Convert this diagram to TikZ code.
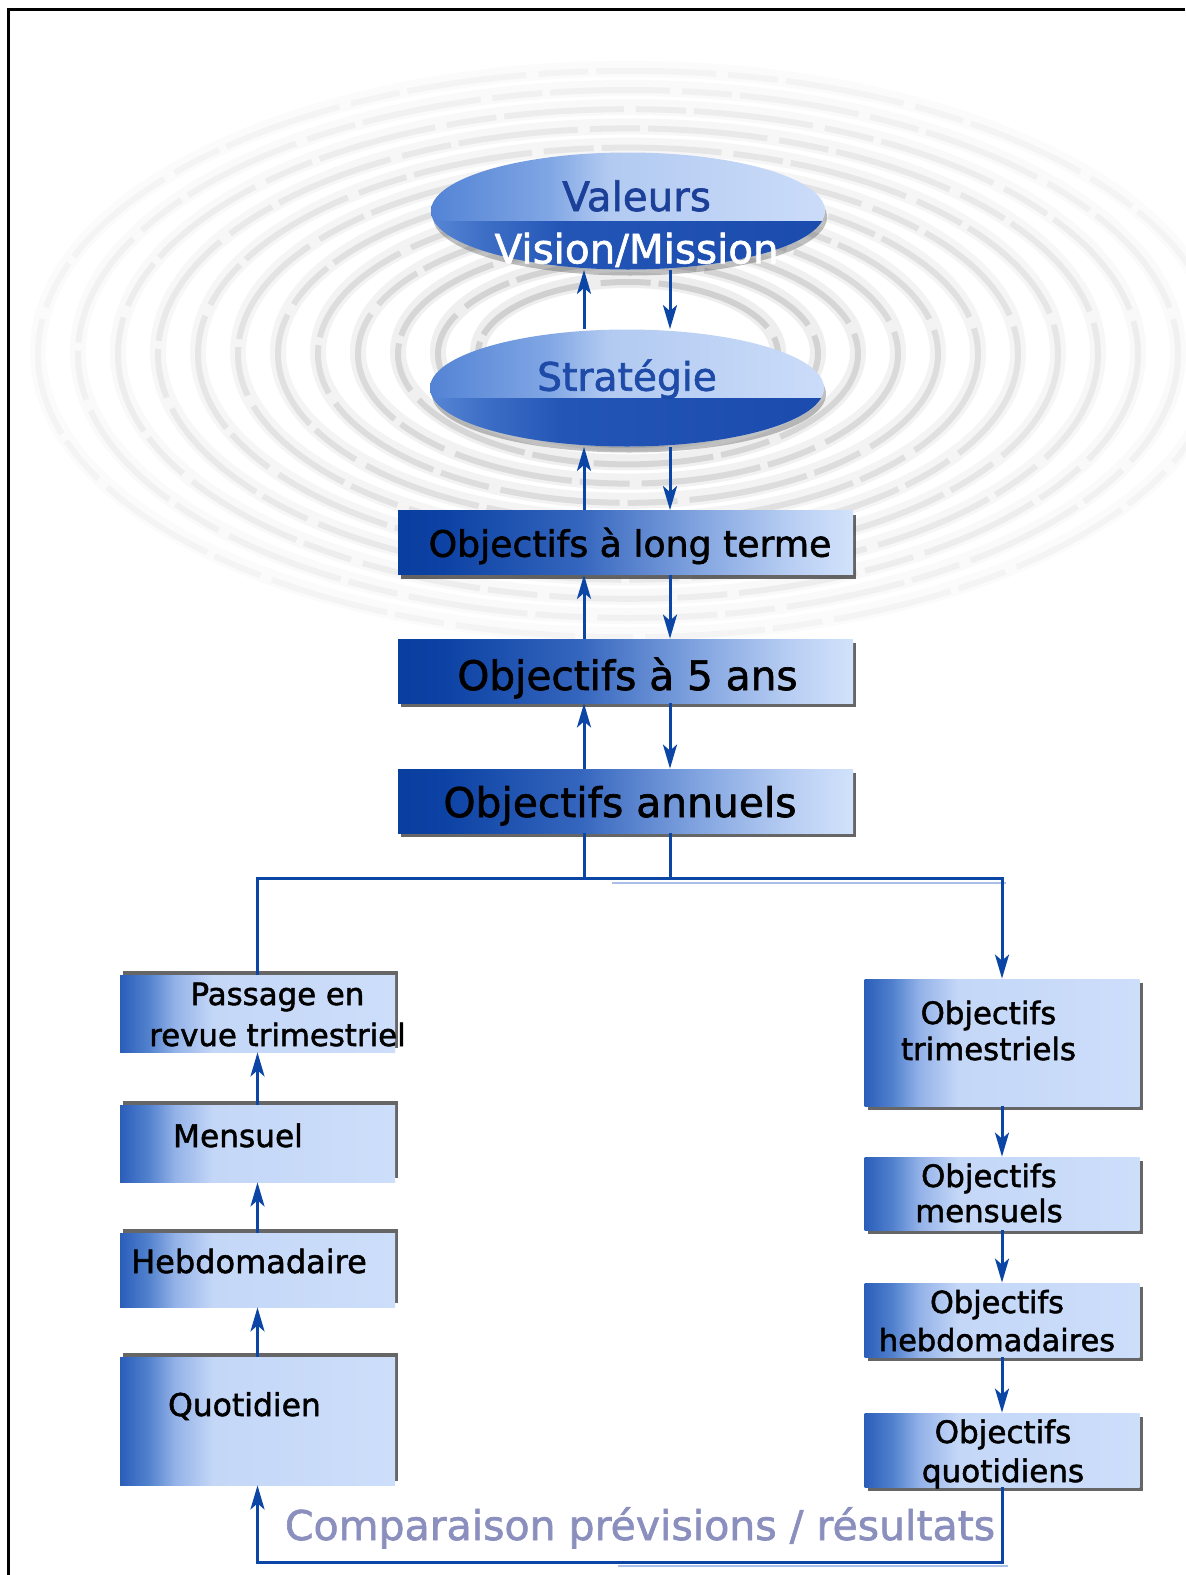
\documentclass[tikz,border=0pt]{standalone}
\usepackage{fontspec}
\setmainfont{DejaVu Sans}[FakeBold=1.6]
\usetikzlibrary{shapes.geometric,shadows,arrows.meta}
\definecolor{lineblue}{HTML}{0B46A6}
\definecolor{lightline}{HTML}{A9BFEA}
\definecolor{valblue}{HTML}{1C3F98}
\definecolor{strblue}{HTML}{1E4AA8}
\definecolor{cmpgray}{HTML}{8B8FBE}
\definecolor{tgA}{HTML}{0A3E9F}
\definecolor{tgB}{HTML}{0C42A4}
\definecolor{tgC}{HTML}{3566BE}
\definecolor{tgD}{HTML}{7FA2DF}
\definecolor{tgE}{HTML}{B5CCF2}
\definecolor{tgF}{HTML}{D2E2FB}
\definecolor{lgA}{HTML}{2B5EBA}
\definecolor{lgB}{HTML}{5080CD}
\definecolor{lgC}{HTML}{93B2E8}
\definecolor{lgD}{HTML}{C4D7F7}
\definecolor{lgE}{HTML}{CCDEFA}
\definecolor{egA}{HTML}{5383D5}
\definecolor{egB}{HTML}{80A6E4}
\definecolor{egC}{HTML}{B2CAF1}
\definecolor{egD}{HTML}{CBDCF9}
\definecolor{elA}{HTML}{5A88D6}
\definecolor{elB}{HTML}{3E6FC6}
\definecolor{elC}{HTML}{2355B6}
\definecolor{elD}{HTML}{1A4BAD}
\pgfdeclarehorizontalshading{topgrad}{100bp}{color(0bp)=(tgA); color(25bp)=(tgA); color(30bp)=(tgB); color(45bp)=(tgC); color(57.5bp)=(tgD); color(67.5bp)=(tgE); color(75bp)=(tgF); color(100bp)=(tgF)}
\pgfdeclarehorizontalshading{lowgrad}{100bp}{color(0bp)=(lgA); color(25bp)=(lgA); color(30bp)=(lgB); color(35bp)=(lgC); color(42bp)=(lgD); color(75bp)=(lgE); color(100bp)=(lgE)}
\pgfdeclarehorizontalshading{ellgrad}{100bp}{color(0bp)=(egA); color(25bp)=(egA); color(40bp)=(egB); color(47.5bp)=(egC); color(75bp)=(egD); color(100bp)=(egD)}
\pgfdeclarehorizontalshading{elllow}{100bp}{color(0bp)=(elA); color(25bp)=(elA); color(32bp)=(elB); color(42bp)=(elC); color(75bp)=(elD); color(100bp)=(elD)}
\newcommand{\bt}[3]{\makebox[0pt]{\raisebox{#2}[0pt][0pt]{\hspace*{#1}\begin{tabular}[t]{@{}c@{}}#3\end{tabular}\hspace*{-#1}}}}
\tikzset{
  topbox/.style={rectangle, minimum width=227.5pt, minimum height=32pt, inner sep=0pt,
    shade, shading=topgrad,
    drop shadow={shadow xshift=1.5pt, shadow yshift=-2pt, opacity=.8, fill=black!75}},
  lowbox/.style={rectangle, minimum width=137.5pt, inner sep=0pt, shade, shading=lowgrad},
  leftbox/.style={lowbox,
    drop shadow={shadow xshift=1.5pt, shadow yshift=2pt, opacity=.8, fill=black!75}},
  rightbox/.style={lowbox,
    drop shadow={shadow xshift=1.5pt, shadow yshift=-2pt, opacity=.8, fill=black!75}},
  ellnode/.style={ellipse, minimum width=197pt, minimum height=58.5pt, inner sep=0pt,
    shade, shading=ellgrad,
    drop shadow={shadow xshift=1pt, shadow yshift=-3pt, opacity=.35, fill=black!70},
    path picture={
      \shade[shading=elllow] ([shift={(-100pt,-5pt)}]path picture bounding box.center)
        rectangle ([shift={(100pt,-31pt)}]path picture bounding box.center);
    }},
  link/.style={draw=lineblue, line width=1.5pt},
  arr/.style={link, -{Stealth[length=12pt,width=7pt,inset=3pt]}},
  shadowline/.style={draw=lightline, line width=1.2pt},
}
\begin{document}
\begin{tikzpicture}[x=0.5pt,y=-0.5pt]
\useasboundingbox (0,0) rectangle (1185,1575);
\fill[white] (0,0) rectangle (1185,1575);
% ripples
\foreach \i in {0,...,11}{
  \pgfmathsetmacro\rx{150+40*\i}
  \pgfmathsetmacro\ry{0.48*\rx}
  \pgfmathsetmacro\opa{0.13-0.009*\i}
  \pgfmathsetmacro\opb{0.30-0.022*\i}
  \draw[line width=8pt, gray, opacity=\opa] (628,352) ellipse [x radius=\rx, y radius=\ry];
  \draw[line width=3pt, black!45, opacity=\opb, dash pattern=on 60pt off 6pt on 25pt off 4pt] (628,354) ellipse [x radius=\rx, y radius=\ry];
}
% frame
\draw[line width=1.5pt, black] (8,1575) -- (8,9) -- (1185,9);
% ellipses
\node[ellnode, font=\fontsize{20.2}{26.2}\selectfont] (e1) at (628,211)
  {\bt{4.3pt}{0pt}{\color{valblue}Valeurs\\\color{white}Vision/Mission}};
\node[ellnode, font=\fontsize{19.6}{24}\selectfont] (e2) at (627,388)
  {\bt{0pt}{-1.35pt}{\color{strblue}Stratégie}};
% top boxes
\node[topbox, font=\fontsize{18.1}{22}\selectfont] (b1) at (625.5,542.5)
  {\bt{2.25pt}{-7.1pt}{Objectifs à long terme}};
\node[topbox, font=\fontsize{20.3}{24}\selectfont] (b2) at (625.5,671)
  {\bt{1pt}{-9.5pt}{Objectifs à 5 ans}};
\node[topbox, font=\fontsize{20.4}{24}\selectfont] (b3) at (625.5,801)
  {\bt{-2.75pt}{-8pt}{Objectifs annuels}};
% left column
\node[leftbox, minimum height=38.5pt, font=\fontsize{15.4}{20.5}\selectfont] (pass) at (257.5,1013.5)
  {\bt{10pt}{4.25pt}{Passage en\\revue trimestriel}};
\node[leftbox, minimum height=38.5pt, font=\fontsize{15.6}{19}\selectfont] (mens) at (257.5,1143.5)
  {\bt{-9.75pt}{-1.75pt}{Mensuel}};
\node[leftbox, minimum height=37pt, font=\fontsize{16}{19}\selectfont] (hebd) at (257.5,1270)
  {\bt{-4.25pt}{-1.5pt}{Hebdomadaire}};
\node[leftbox, minimum height=64pt, font=\fontsize{15.7}{19}\selectfont] (quot) at (257.5,1421)
  {\bt{-6.5pt}{2.5pt}{Quotidien}};
% right column
\node[rightbox, minimum height=63.5pt, font=\fontsize{15.4}{18}\selectfont] (otri) at (1002,1042.5)
  {\bt{-6.75pt}{9.25pt}{Objectifs\\trimestriels}};
\node[rightbox, minimum height=36.5pt, font=\fontsize{15.4}{17.5}\selectfont] (omen) at (1002,1193.5)
  {\bt{-6.5pt}{3.25pt}{Objectifs\\mensuels}};
\node[rightbox, minimum height=37pt, font=\fontsize{15.2}{19}\selectfont] (oheb) at (1002,1320)
  {\bt{-2.5pt}{3.5pt}{Objectifs\\hebdomadaires}};
\node[rightbox, minimum height=37pt, font=\fontsize{15.5}{19.5}\selectfont] (oquo) at (1002,1450)
  {\bt{0.5pt}{3.5pt}{Objectifs\\quotidiens}};
% comparison label
\node[anchor=base, text=cmpgray, font=\fontsize{20.5}{24}\selectfont, inner sep=0pt] (cmp) at (640,1540)
  {Comparaison prévisions / résultats};
% helper coordinates
\coordinate (xL) at (584,878);
\coordinate (xR) at (670,878);
\coordinate (lb) at (0,1562);
\coordinate (s1a) at (612,883);
\coordinate (s1b) at (1006,883);
\coordinate (s2a) at (618,1566);
\coordinate (s2b) at (1008,1566);
% light shadow lines
\draw[shadowline] (s1a) -- (s1b);
\draw[shadowline] (s2a) -- (s2b);
% vertical double arrows
\draw[arr] (e2.north -| xL) -- (e1.south -| xL);
\draw[arr] (e1.south -| xR) -- (e2.north -| xR);
\draw[arr] (b1.north -| xL) -- (e2.south -| xL);
\draw[arr] (e2.south -| xR) -- (b1.north -| xR);
\draw[arr] (b2.north -| xL) -- (b1.south -| xL);
\draw[arr] (b1.south -| xR) -- (b2.north -| xR);
\draw[arr] (b3.north -| xL) -- (b2.south -| xL);
\draw[arr] (b2.south -| xR) -- (b3.north -| xR);
% branch
\draw[link] (b3.south -| xL) -- (xL);
\draw[link] (b3.south -| xR) -- (xR);
\draw[link] (xL) -| (pass.north);
\draw[arr] (xL) -| (otri.north);
% left chain
\draw[arr] (quot.north) -- (hebd.south);
\draw[arr] (hebd.north) -- (mens.south);
\draw[arr] (mens.north) -- (pass.south);
% right chain
\draw[arr] (otri.south) -- (omen.north);
\draw[arr] (omen.south) -- (oheb.north);
\draw[arr] (oheb.south) -- (oquo.north);
% feedback loop
\draw[arr] (oquo.south) -- (oquo.south |- lb) -| (quot.south);
\end{tikzpicture}
\end{document}
